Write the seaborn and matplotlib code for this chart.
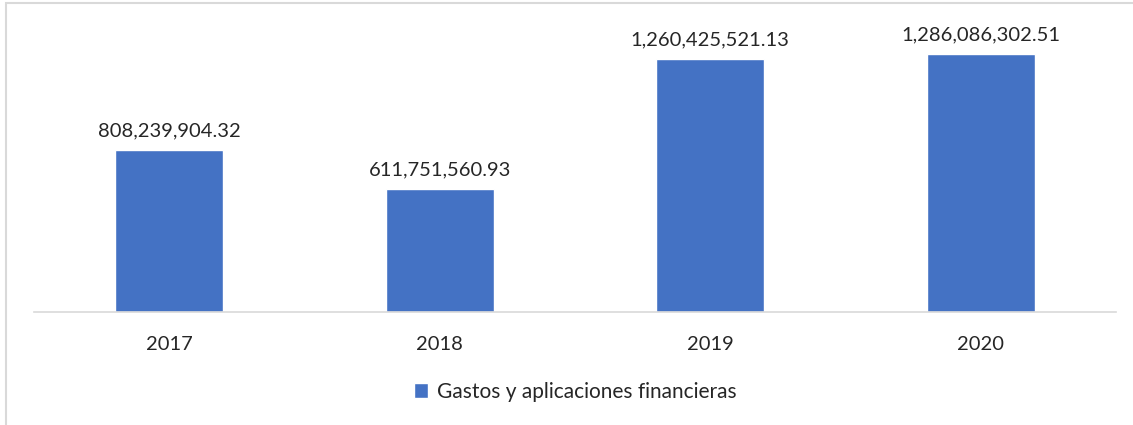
import matplotlib
matplotlib.use("Agg")
import matplotlib.pyplot as plt
from matplotlib.patches import Rectangle
import seaborn as sns
import pandas as pd

years = ["2017", "2018", "2019", "2020"]
values = [808239904.32, 611751560.93, 1260425521.13, 1286086302.51]
series_name = "Gastos y aplicaciones financieras"

df = pd.DataFrame({"Año": years, "Valor": values, "Serie": series_name})

sns.set_theme(style="white")
plt.rcParams["font.family"] = ["Lato", "DejaVu Sans"]

fig = plt.figure(figsize=(11.33, 4.25), dpi=100)
ax = fig.add_axes([0.030, 0.266, 0.955, 0.660])

sns.barplot(data=df, x="Año", y="Valor", hue="Serie", palette=["#4472C4"],
            width=0.4, ax=ax, legend=True, saturation=1)

ax.set_ylim(0, 1.4e9)
ax.set_xlim(-0.5, 3.5)
ax.set_xlabel("")
ax.set_ylabel("")
ax.set_yticks([])
for side in ["left", "right", "top"]:
    ax.spines[side].set_visible(False)
ax.spines["bottom"].set_color("#d9d9d9")
ax.spines["bottom"].set_linewidth(1.2)
ax.tick_params(axis="x", length=0, pad=17, labelsize=14.5, labelcolor="#262626")

for cont in ax.containers:
    ax.bar_label(cont, labels=[f"{v:,.2f}" for v in values], padding=8,
                 fontsize=14.5, color="#262626")

leg = ax.legend(loc="center", bbox_to_anchor=(0.5, -0.285), frameon=False,
                fontsize=15, handlelength=0.7, handleheight=0.7,
                handletextpad=0.4)
for t in leg.get_texts():
    t.set_color("#262626")

# light frame around the chart area
fig.patches.append(Rectangle((6 / 1133, -0.05), 1.2, 1 - 3 / 425 + 0.05,
                             transform=fig.transFigure, fill=False,
                             edgecolor="#d9d9d9", linewidth=1.5))

fig.savefig("out.png", dpi=100, facecolor="white")
